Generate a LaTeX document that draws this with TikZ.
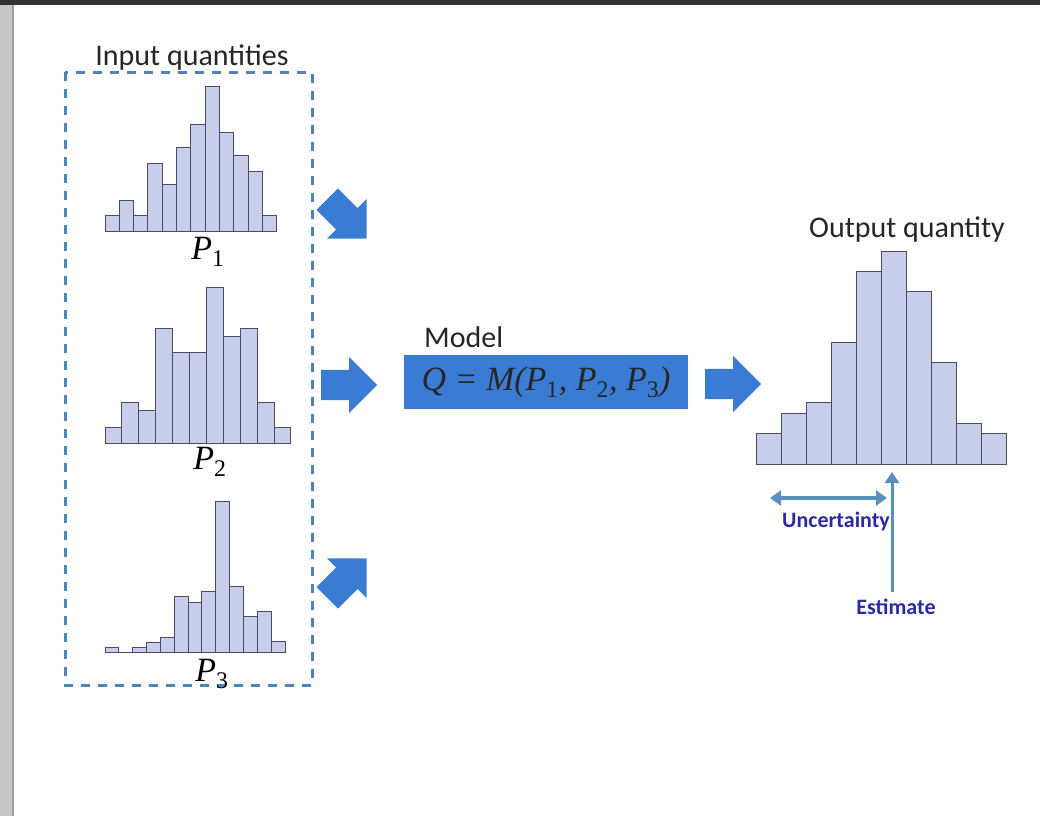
\documentclass[tikz,border=0pt]{standalone}
\usepackage{fontspec}
\setmainfont{Carlito}
\newfontfamily\tms{Liberation Serif}
\usetikzlibrary{shapes.arrows,arrows.meta}

\definecolor{barfill}{RGB}{199,205,234}
\definecolor{baredge}{RGB}{72,76,100}
\definecolor{modelblue}{RGB}{58,124,212}
\definecolor{boxblue}{RGB}{78,132,190}
\definecolor{markblue}{RGB}{88,142,192}
\definecolor{labelblue}{RGB}{42,42,165}

\begin{document}
\begin{tikzpicture}[
  x=1pt, y=-1pt,
  bar/.style={fill=barfill,draw=baredge,line width=1pt},
  inputbox/.style={draw=boxblue,line width=3pt,dash pattern=on 9pt off 8pt},
  blockarrow/.style={single arrow,fill=modelblue,draw=none,inner sep=0pt,inner ysep=15pt,
    minimum height=56pt,single arrow head extend=13pt,anchor=tail},
  modelbox/.style={fill=modelblue,minimum width=284pt,minimum height=54pt,inner sep=0pt,
    text=black!85,font=\fontsize{34}{40}\selectfont\tms\itshape},
  caption/.style={font=\fontsize{30}{36}\selectfont,text=black!85,inner sep=0pt},
  varlabel/.style={font=\fontsize{34}{40}\selectfont\tms,inner sep=0pt},
  marker/.style={draw=markblue,line width=3.5pt},
  note/.style={font=\fontsize{22}{26}\selectfont\bfseries,text=labelblue,inner sep=0pt}
]
  \useasboundingbox (0,0) rectangle (1040,816);

  % window frame
  \fill[black!22] (0,0) rectangle (12,816);
  \fill[black!38] (12,0) rectangle (14,816);
  \fill[black!80] (0,0) rectangle (1040,5);

  % input side
  \draw[inputbox] (65,72) rectangle (312,685);
  \node[caption,anchor=base] (intitle) at (192,65) {Input quantities};

  \foreach \h [count=\i from 0] in {16,31,16,68,47,84,107,145,99,76,60,16}
    \draw[bar] (105+\i*14.33,231) rectangle ++(14.33,-\h);
  \node[varlabel] (p1) at (208,252) {\itshape P\textsubscript{\upshape 1}};

  \foreach \h [count=\i from 0] in {16,41,33,115,91,91,156,107,115,41,16}
    \draw[bar] (105+\i*16.9,443) rectangle ++(16.9,-\h);
  \node[varlabel] (p2) at (210,462) {\itshape P\textsubscript{\upshape 2}};

  \foreach \h [count=\i from 0] in {5,0,5,10,15,56,50,61,151,66,36,41,11}
    \draw[bar] (105+\i*13.85,652) rectangle ++(13.85,-\h);
  \node[varlabel] (p3) at (212,674) {\itshape P\textsubscript{\upshape 3}};

  % arrows into and out of the model
  \node[blockarrow,rotate=-45] (in1) at (327,199) {};
  \node[blockarrow] (in2) at (321,385) {};
  \node[blockarrow,rotate=45] (in3) at (327,598) {};
  \node[modelbox] (model) at (546,382)
    {Q = M(P\textsubscript{\upshape 1}, P\textsubscript{\upshape 2}, P\textsubscript{\upshape 3})};
  \node[caption,anchor=base west] (modeltitle) at (424,347) {Model};
  \node[blockarrow] (out) at (705,384) {};

  % output side
  \node[caption,anchor=base] (outtitle) at (907,237) {Output quantity};
  \foreach \h [count=\i from 0] in {31,51,62,122,193,213,173,102,41,31}
    \draw[bar] (756.7+\i*25,464) rectangle ++(25,-\h);

  \coordinate (ulft) at (770,498);
  \coordinate (urgt) at (887,498);
  \coordinate (est) at (892,472);
  \draw[marker,{Triangle[length=11pt,width=15pt]}-{Triangle[length=11pt,width=15pt]}] (ulft) -- (urgt);
  \node[note] (unc) at (836,522) {Uncertainty};
  \node[note,outer ysep=7pt] (estimate) at (896,607) {Estimate};
  \draw[marker,line width=3pt,-{Triangle[length=11pt,width=14pt]}] (estimate.north -| est) -- (est);
\end{tikzpicture}
\end{document}
